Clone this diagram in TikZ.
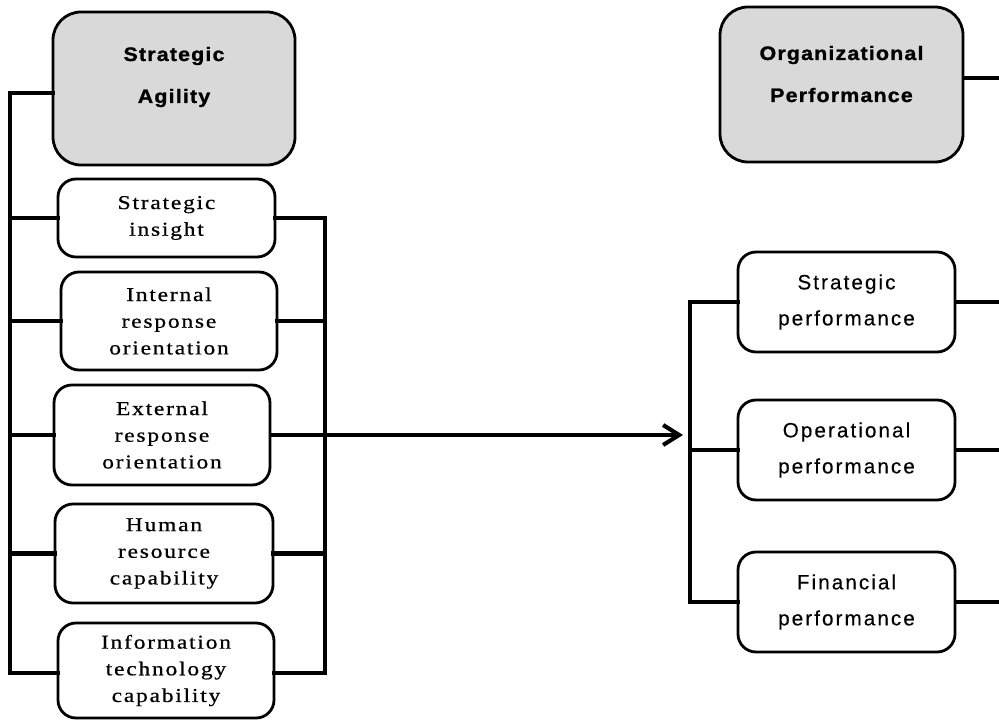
\documentclass[tikz,border=0pt]{standalone}
\usepackage{fontspec}
\setmainfont{Liberation Serif}
\newfontfamily\headfont[FakeStretch=1.1, LetterSpace=6, FakeBold=1.2]{Liberation Sans}
\newfontfamily\perffont[LetterSpace=10, FakeBold=0.3]{Liberation Sans}
\newfontfamily\itemfont[FakeStretch=1.2, LetterSpace=9, FakeBold=0.6]{Liberation Serif}
\usetikzlibrary{arrows.meta}
\newcommand\pxu{*0.75pt}
\definecolor{headgray}{HTML}{D9D9D9}
\tikzset{
  conn/.style={line width=3.1pt, line cap=rect, line join=miter},
  boxbase/.style={draw, line width=2.1pt, rounded corners=13.5pt, outer sep=0pt, align=center, inner sep=0pt},
  headbox/.style={boxbase, fill=headgray, rounded corners=21pt},
  headtext/.style={font=\headfont\bfseries\fontsize{14.6}{31.5}\selectfont, align=center, inner sep=0pt},
  itembox/.style={boxbase, fill=white, font=\itemfont\fontsize{14.7}{20}\selectfont},
  perfbox/.style={boxbase, fill=white, font=\perffont\fontsize{15.5}{27}\selectfont},
}
\begin{document}
\begin{tikzpicture}[x=0.75pt, y=-0.75pt]
\useasboundingbox (0,0) rectangle (999,720);

% ---- Strategic agility and its dimensions ----
\node[headbox, minimum width=242\pxu, minimum height=153\pxu] (SA) at (174,88.5) {};
\node[headtext, anchor=base] (SAt) at (174,103) {Strategic\\Agility};

\node[itembox, minimum width=217\pxu, minimum height=78\pxu] (SI) at (166.5,218) {Strategic\\insight};
\node[itembox, minimum width=216\pxu, minimum height=98\pxu] (IRO) at (169,321) {Internal\\response\\orientation};
\node[itembox, minimum width=216\pxu, minimum height=100\pxu] (ERO) at (162,435) {External\\response\\orientation};
\node[itembox, minimum width=218\pxu, minimum height=99\pxu] (HRC) at (164,553.5) {Human\\resource\\capability};
\node[itembox, minimum width=216\pxu, minimum height=95\pxu] (ITC) at (166,670.5) {Information\\technology\\capability};

% ---- Organizational performance and its dimensions ----
\node[headbox, minimum width=243\pxu, minimum height=155\pxu] (OP) at (841.5,84.5) {};
\node[headtext, anchor=base] (OPt) at (841.5,102) {Organizational\\Performance};

\node[perfbox, minimum width=217\pxu, minimum height=100\pxu] (SP) at (846.5,302) {Strategic\\performance};
\node[perfbox, minimum width=217\pxu, minimum height=100\pxu] (OPP) at (846.5,450) {Operational\\performance};
\node[perfbox, minimum width=217\pxu, minimum height=100\pxu] (FP) at (846.5,602) {Financial\\performance};

% ---- bracket coordinates ----
\coordinate (lbTop) at (10,93);
\coordinate (lbBot) at (10,673);
\coordinate (rbTop) at (325,218);
\coordinate (rbBot) at (325,673);
\coordinate (pbTop) at (690,302);
\coordinate (pbBot) at (690,602);
\coordinate (tip) at (683,437);
\coordinate (opEdge) at (999,78);
\coordinate (rEdge) at (999,0);

% left bracket
\draw[conn] (lbTop -| SA.west) -- (lbTop) -- (lbBot) -- (lbBot -| ITC.west);
\foreach \n in {SI,IRO,ERO,HRC}
  \draw[conn] (\n.west) -- (\n.west -| lbTop);

% right bracket
\draw[conn] (rbTop -| SI.east) -- (rbTop) -- (rbBot) -- (rbBot -| ITC.east);
\foreach \n in {IRO,HRC}
  \draw[conn] (\n.east) -- (\n.east -| rbTop);

% main arrow
\draw[conn, line cap=butt, -{Straight Barb[length=12pt, width=15pt, line width=3.1pt]}] (ERO.east) -- (ERO.east -| tip);

% performance bracket
\draw[conn] (pbTop -| SP.west) -- (pbTop) -- (pbBot) -- (pbBot -| FP.west);
\draw[conn] (OPP.west) -- (OPP.west -| pbTop);

% lines leaving to the right
\draw[conn, line cap=butt] (opEdge -| OP.east) -- (opEdge);
\foreach \n in {SP,OPP,FP}
  \draw[conn, line cap=butt] (\n.east) -- (\n.east -| rEdge);
\end{tikzpicture}
\end{document}
